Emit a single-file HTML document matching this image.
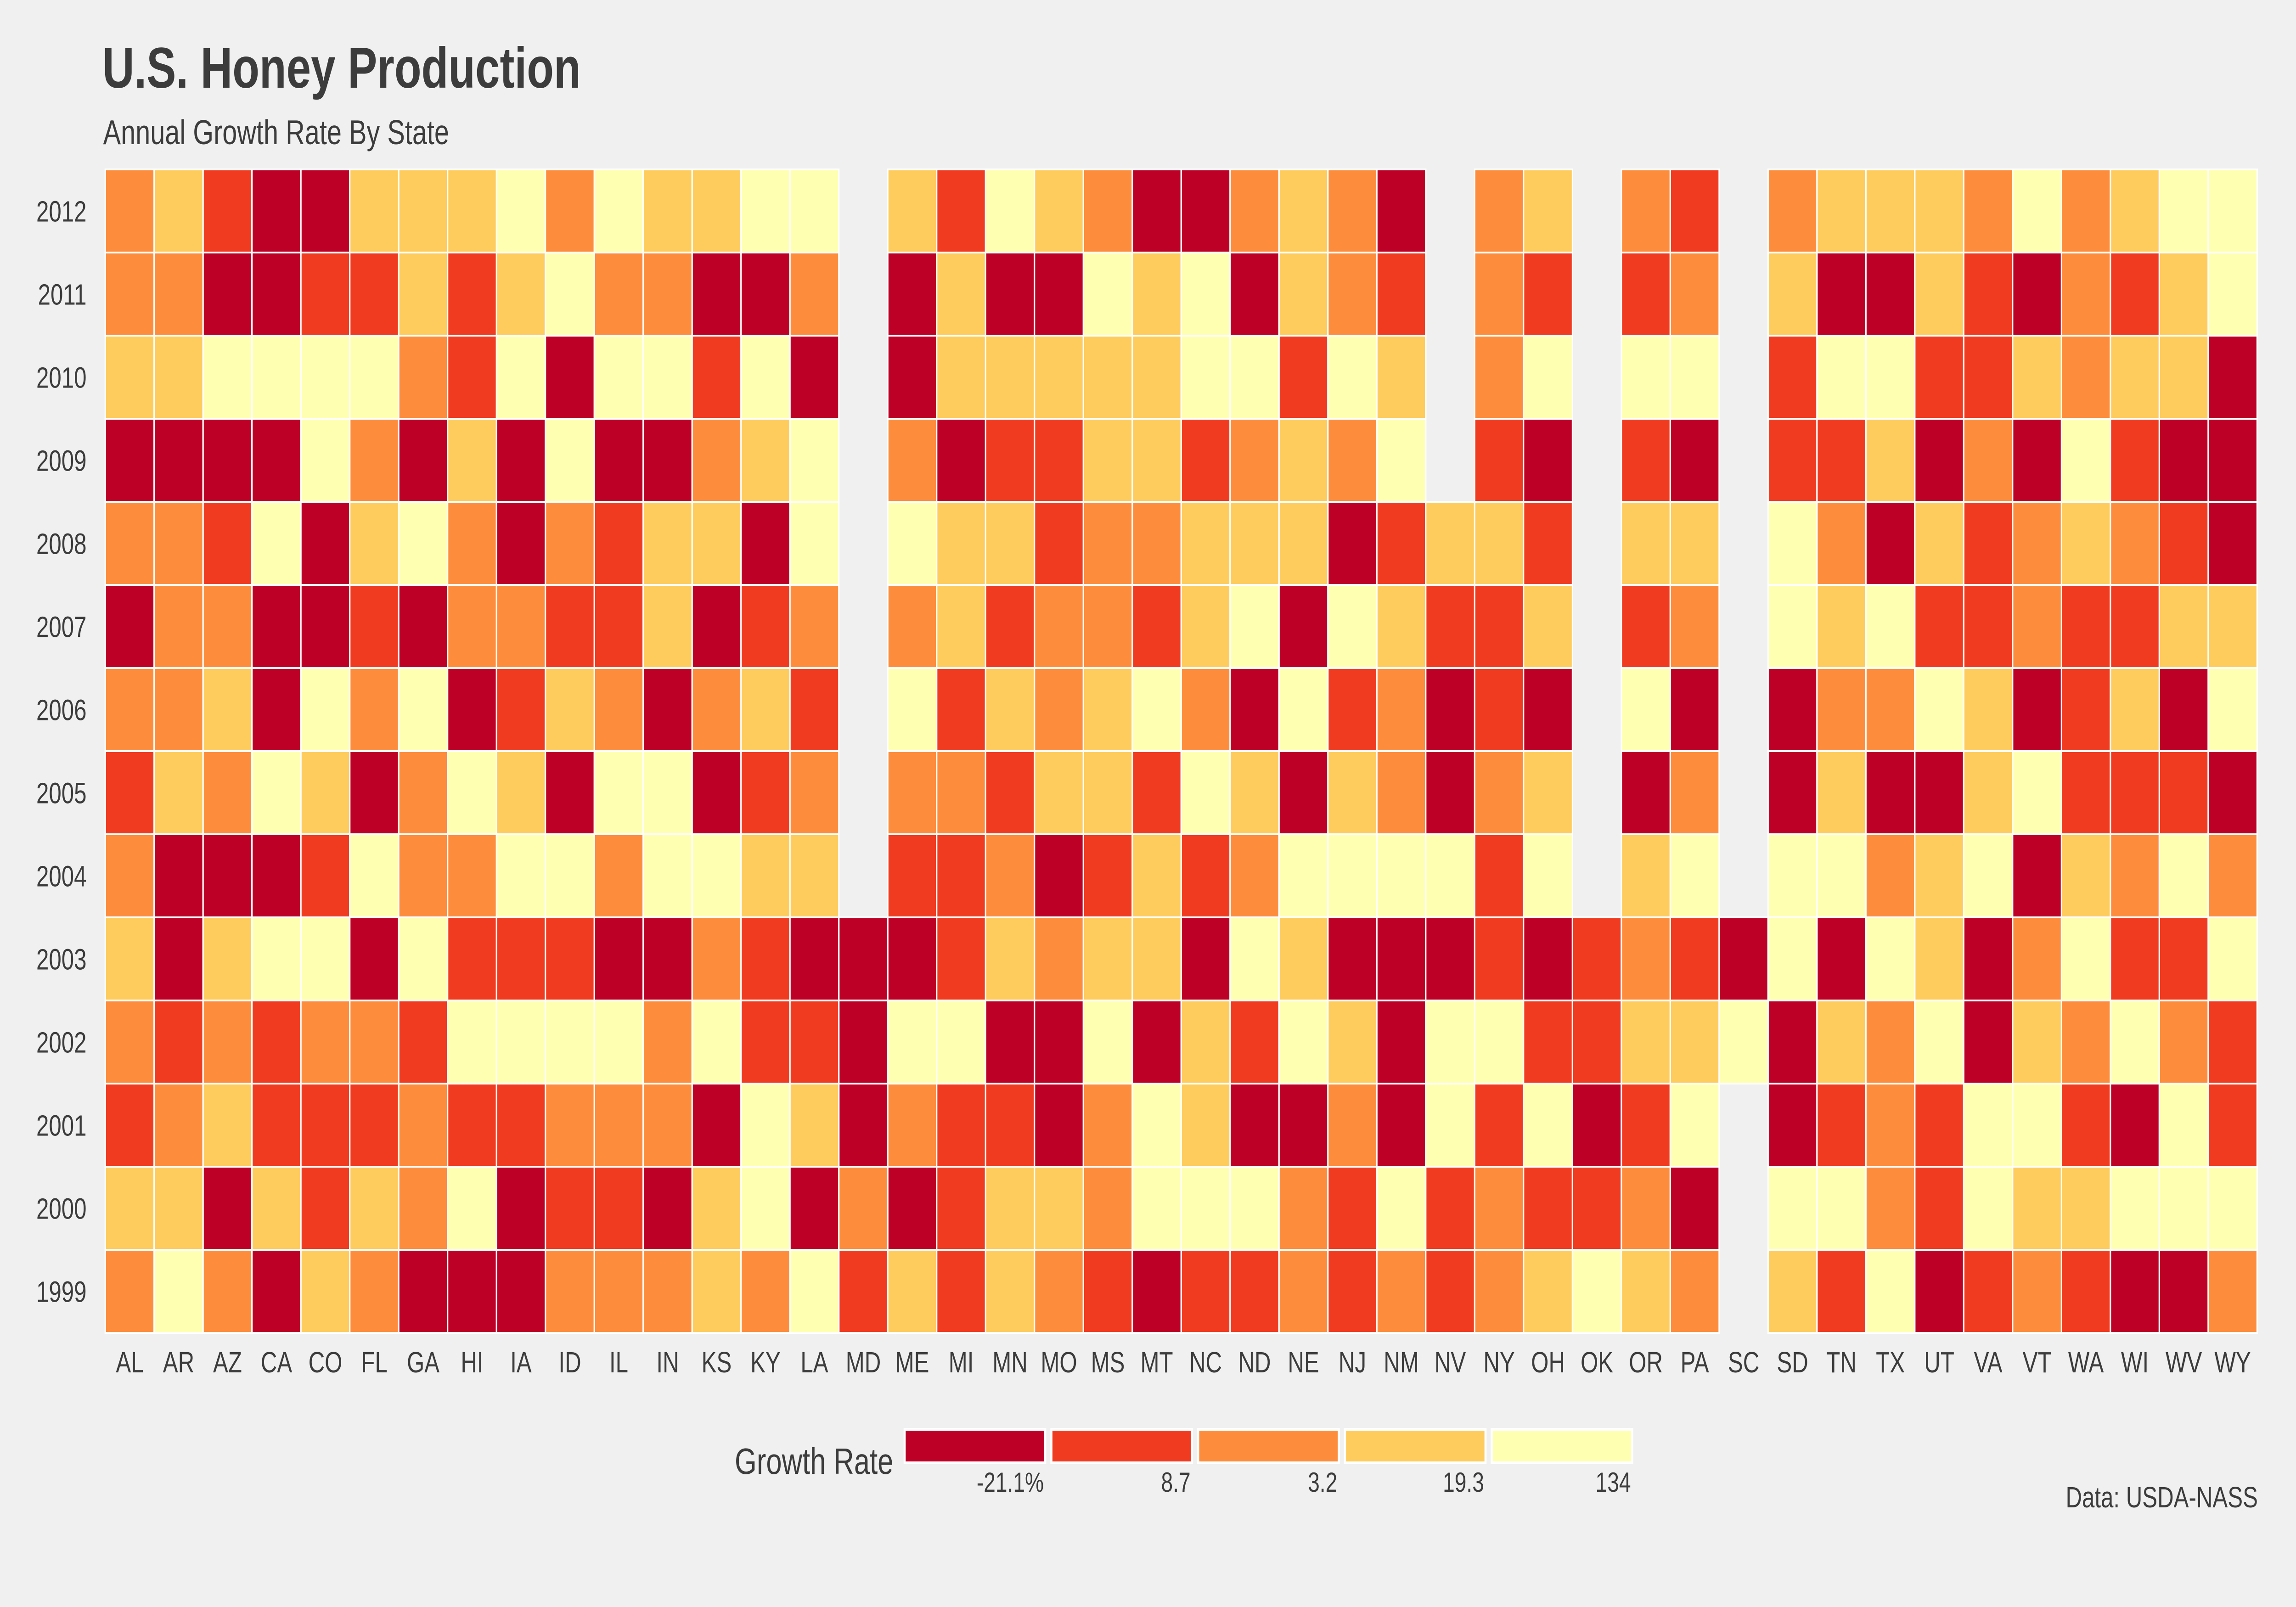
<!DOCTYPE html>
<html>
<head>
<meta charset="utf-8">
<style>
  html, body { margin: 0; padding: 0; background: #f0f0f0; overflow: hidden; width: 100vw; height: 100vh; }
  svg { display: block; width: 100vw; height: 100vh; }
  text { font-family: "Liberation Sans", "DejaVu Sans", sans-serif; fill: #3c3c3c; }
</style>
</head>
<body>
<svg id="chart" viewBox="0 0 6500 3500" preserveAspectRatio="none" xmlns="http://www.w3.org/2000/svg">
  <rect x="0" y="0" width="6500" height="3500" fill="#f0f0f0"/>
  <text x="290" y="191" font-size="125" font-weight="bold">U.S. Honey Production</text>
  <text x="292" y="314" font-size="75">Annual Growth Rate By State</text>
  <g id="cells"></g>
  <g id="yticks"></g>
  <g id="xticks"></g>
  <g id="legend">
    <text x="2529" y="3210" font-size="80" text-anchor="end">Growth Rate</text>
  </g>
  <text x="6392" y="3283" font-size="64" text-anchor="end">Data: USDA-NASS</text>
</svg>
<script>
const states = ["AL","AR","AZ","CA","CO","FL","GA","HI","IA","ID","IL","IN","KS","KY","LA","MD","ME","MI","MN","MO","MS","MT","NC","ND","NE","NJ","NM","NV","NY","OH","OK","OR","PA","SC","SD","TN","TX","UT","VA","VT","WA","WI","WV","WY"];
const years = [2012,2011,2010,2009,2008,2007,2006,2005,2004,2003,2002,2001,2000,1999];
const legendLabels = ["-21.1%","8.7","3.2","19.3","134"];
const binColors = ["#bd0026","#f03b20","#fd8d3c","#fecc5c","#ffffb2"];
// growth-rate bin (1..5) per state, one array per year; 0 = no data
const bins2012 = [3,4,2,1,1,4,4,4,5,3,5, 4,4,5,5,0,4,2,5,4,3,1, 1,3,4,3,1,0,3,4,0,3,2, 0,3,4,4,4,3,5,3,4,5,5];
const bins2011 = [3,3,1,1,2,2,4,2,4,5,3, 3,1,1,3,0,1,4,1,1,5,4, 5,1,4,3,2,0,3,2,0,2,3, 0,4,1,1,4,2,1,3,2,4,5];
const bins2010 = [4,4,5,5,5,5,3,2,5,1,5, 5,2,5,1,0,1,4,4,4,4,4, 5,5,2,5,4,0,3,5,0,5,5, 0,2,5,5,2,2,4,3,4,4,1];
const bins2009 = [1,1,1,1,5,3,1,4,1,5,1, 1,3,4,5,0,3,1,2,2,4,4, 2,3,4,3,5,0,2,1,0,2,1, 0,2,2,4,1,3,1,5,2,1,1];
const bins2008 = [3,3,2,5,1,4,5,3,1,3,2, 4,4,1,5,0,5,4,4,2,3,3, 4,4,4,1,2,4,4,2,0,4,4, 0,5,3,1,4,2,3,4,3,2,1];
const bins2007 = [1,3,3,1,1,2,1,3,3,2,2, 4,1,2,3,0,3,4,2,3,3,2, 4,5,1,5,4,2,2,4,0,2,3, 0,5,4,5,2,2,3,2,2,4,4];
const bins2006 = [3,3,4,1,5,3,5,1,2,4,3, 1,3,4,2,0,5,2,4,3,4,5, 3,1,5,2,3,1,2,1,0,5,1, 0,1,3,3,5,4,1,2,4,1,5];
const bins2005 = [2,4,3,5,4,1,3,5,4,1,5, 5,1,2,3,0,3,3,2,4,4,2, 5,4,1,4,3,1,3,4,0,1,3, 0,1,4,1,1,4,5,2,2,2,1];
const bins2004 = [3,1,1,1,2,5,3,3,5,5,3, 5,5,4,4,0,2,2,3,1,2,4, 2,3,5,5,5,5,2,5,0,4,5, 0,5,5,3,4,5,1,4,3,5,3];
const bins2003 = [4,1,4,5,5,1,5,2,2,2,1, 1,3,2,1,1,1,2,4,3,4,4, 1,5,4,1,1,1,2,1,2,3,2, 1,5,1,5,4,1,3,5,2,2,5];
const bins2002 = [3,2,3,2,3,3,2,5,5,5,5, 3,5,2,2,1,5,5,1,1,5,1, 4,2,5,4,1,5,5,2,2,4,4, 5,1,4,3,5,1,4,3,5,3,2];
const bins2001 = [2,3,4,2,2,2,3,2,2,3,3, 3,1,5,4,1,3,2,2,1,3,5, 4,1,1,3,1,5,2,5,1,2,5, 0,1,2,3,2,5,5,2,1,5,2];
const bins2000 = [4,4,1,4,2,4,3,5,1,2,2, 1,4,5,1,3,1,2,4,4,3,5, 5,5,3,2,5,2,3,2,2,3,1, 0,5,5,3,2,5,4,4,5,5,5];
const bins1999 = [3,5,3,1,4,3,1,1,1,3,3, 3,4,3,5,2,4,2,4,3,2,1, 2,2,3,2,3,2,3,4,5,4,3, 0,4,2,5,1,2,3,2,1,1,3];
const binsByYear = [bins2012,bins2011,bins2010,bins2009,bins2008,bins2007,bins2006,bins2005,bins2004,bins2003,bins2002,bins2001,bins2000,bins1999];

const NS = "http://www.w3.org/2000/svg";
const plotL = 298, plotR = 6390, plotT = 369, plotB = 2903;
const cw = (plotR - plotL) / states.length;
const rh = (plotB - plotT) / years.length;
const xPos = i => plotL + i * cw;
const yPos = j => plotT + j * rh;

const cellsG = document.getElementById('cells');
binsByYear.forEach((row, j) => {
  row.forEach((b, i) => {
    if (!b) return;
    const r = document.createElementNS(NS, 'rect');
    r.setAttribute('x', xPos(i));
    r.setAttribute('y', yPos(j));
    r.setAttribute('width', cw);
    r.setAttribute('height', rh);
    r.setAttribute('fill', binColors[b - 1]);
    r.setAttribute('stroke', '#ffffff');
    r.setAttribute('stroke-width', '4');
    
    
    cellsG.appendChild(r);
  });
});

const yG = document.getElementById('yticks');
years.forEach((y, j) => {
  const t = document.createElementNS(NS, 'text');
  t.setAttribute('x', 245);
  t.setAttribute('y', yPos(j) + rh / 2 + 23);
  t.setAttribute('font-size', '64');
  t.setAttribute('text-anchor', 'end');
  t.textContent = y;
  
  
  yG.appendChild(t);
});

const xG = document.getElementById('xticks');
states.forEach((s, i) => {
  const t = document.createElementNS(NS, 'text');
  t.setAttribute('x', xPos(i) + cw / 2);
  t.setAttribute('y', 2989);
  t.setAttribute('font-size', '64');
  t.setAttribute('text-anchor', 'middle');
  t.textContent = s;
  
  
  xG.appendChild(t);
});

const lg = document.getElementById('legend');
const keyX0 = 2561, keyStep = 415.5, keyW = 398, keyY = 3113, keyH = 73;
legendLabels.forEach((lab, k) => {
  const r = document.createElementNS(NS, 'rect');
  r.setAttribute('x', keyX0 + k * keyStep);
  r.setAttribute('y', keyY);
  r.setAttribute('width', keyW);
  r.setAttribute('height', keyH);
  r.setAttribute('fill', binColors[k]);
  r.setAttribute('stroke', '#ffffff');
  r.setAttribute('stroke-width', '6');
  
  
  lg.appendChild(r);
  const t = document.createElementNS(NS, 'text');
  t.setAttribute('x', keyX0 + k * keyStep + keyW - 4);
  t.setAttribute('y', 3249);
  t.setAttribute('font-size', '60');
  t.setAttribute('text-anchor', 'end');
  t.textContent = lab;
  
  
  lg.appendChild(t);
});
</script>
</body>
</html>
